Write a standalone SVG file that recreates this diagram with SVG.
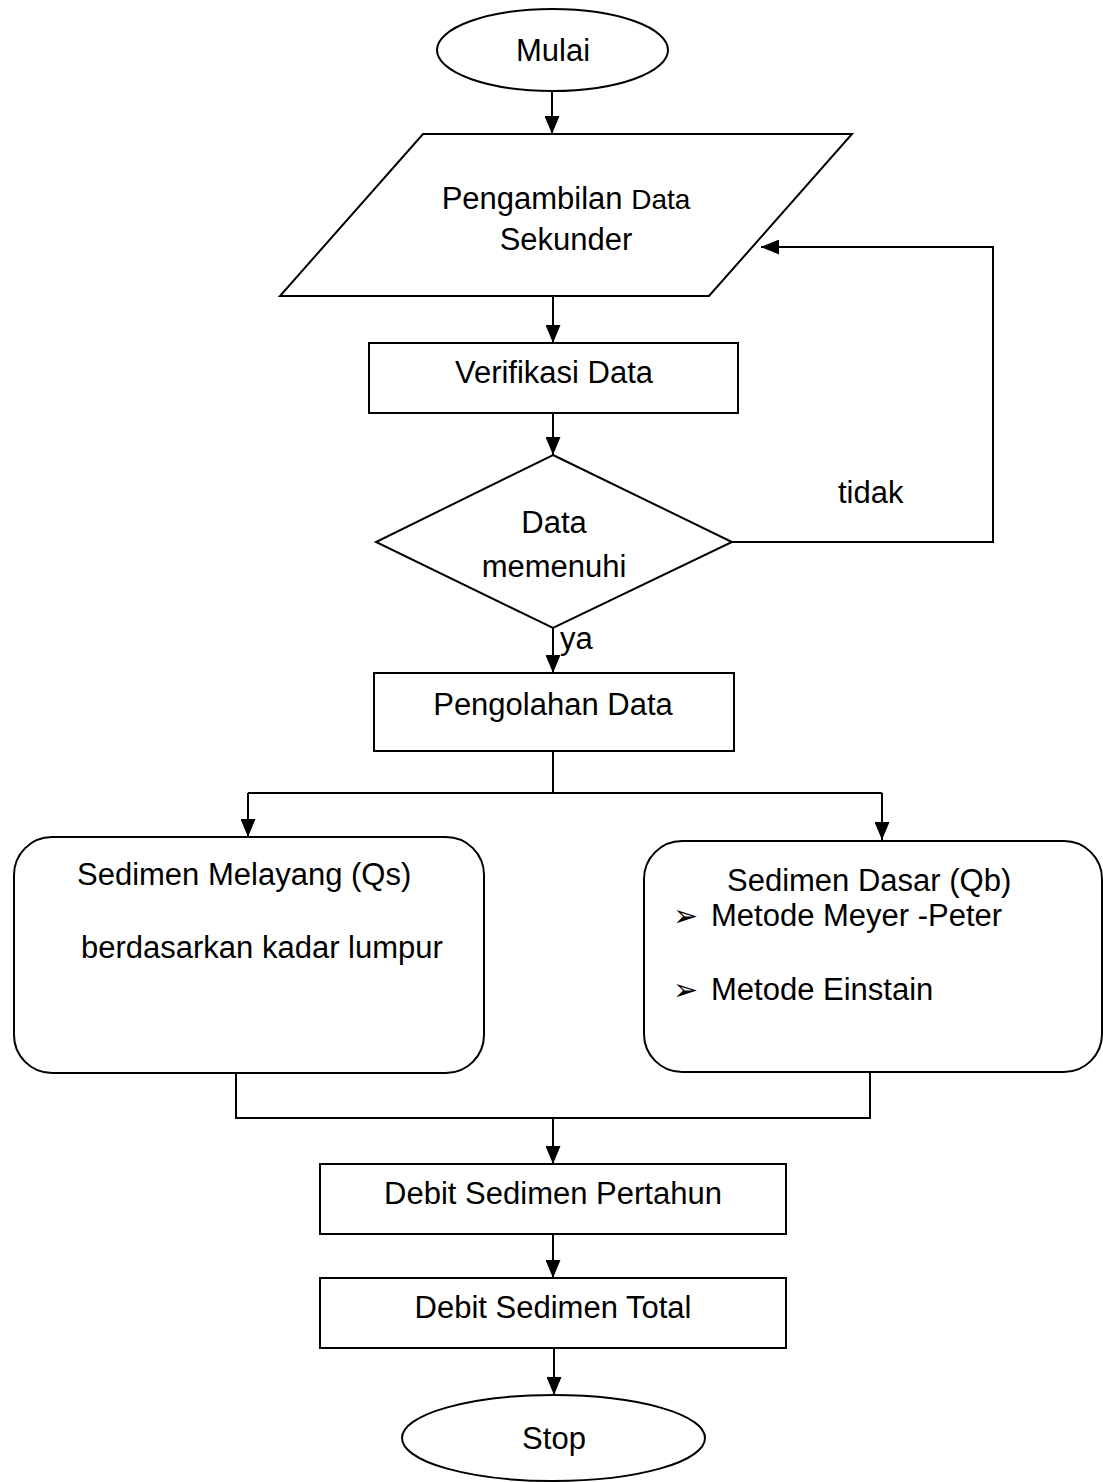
<svg xmlns="http://www.w3.org/2000/svg" width="1103" height="1482" viewBox="0 0 1103 1482">
  <style>
    .shape { fill: #ffffff; stroke: #000000; stroke-width: 2; }
    .edge { fill: none; stroke: #000000; stroke-width: 2; }
    .label { font-family: "Liberation Sans", Arial, sans-serif; font-size: 31px; fill: #000000; }
    .mid { text-anchor: middle; }
    .bullet { font-family: "DejaVu Sans", sans-serif; font-size: 30px; fill: #000000; }
  </style>
  <defs>
    <marker id="arrow" viewBox="0 0 18 15" refX="18" refY="7.5" markerWidth="18" markerHeight="15" markerUnits="userSpaceOnUse" orient="auto">
      <path d="M0,0 L18,7.5 L0,15 z" fill="#000000"/>
    </marker>
  </defs>
  <rect width="1103" height="1482" fill="#ffffff"/>

  <!-- connectors -->
  <g id="connectors">
    <line class="edge" x1="552" y1="91" x2="552" y2="134" marker-end="url(#arrow)"/>
    <line class="edge" x1="553" y1="296" x2="553" y2="343" marker-end="url(#arrow)"/>
    <line class="edge" x1="553" y1="413" x2="553" y2="455" marker-end="url(#arrow)"/>
    <line class="edge" x1="553" y1="628" x2="553" y2="673" marker-end="url(#arrow)"/>
    <polyline class="edge" points="732,542 993,542 993,247 761,247" marker-end="url(#arrow)"/>
    <polyline class="edge" points="553,751 553,793"/>
    <polyline class="edge" points="248,793 882,793"/>
    <line class="edge" x1="248" y1="793" x2="248" y2="837" marker-end="url(#arrow)"/>
    <line class="edge" x1="882" y1="793" x2="882" y2="840" marker-end="url(#arrow)"/>
    <polyline class="edge" points="236,1073 236,1118 870,1118 870,1072"/>
    <line class="edge" x1="553" y1="1118" x2="553" y2="1164" marker-end="url(#arrow)"/>
    <line class="edge" x1="553" y1="1234" x2="553" y2="1278" marker-end="url(#arrow)"/>
    <line class="edge" x1="554" y1="1348" x2="554" y2="1395" marker-end="url(#arrow)"/>
    <text class="label" x="560" y="649">ya</text>
    <text class="label" x="838" y="503">tidak</text>
  </g>

  <g id="mulai">
    <ellipse class="shape" cx="552.5" cy="50" rx="115.5" ry="41"/>
    <text class="label mid" x="553" y="61">Mulai</text>
  </g>

  <g id="pengambilan-data">
    <polygon class="shape" points="423,134 852,134 709,296 280,296"/>
    <text class="label mid" x="566" y="209">Pengambilan <tspan font-size="28">Data</tspan></text>
    <text class="label mid" x="566" y="250">Sekunder</text>
  </g>

  <g id="verifikasi-data">
    <rect class="shape" x="369" y="343" width="369" height="70"/>
    <text class="label mid" x="554" y="383">Verifikasi Data</text>
  </g>

  <g id="data-memenuhi">
    <polygon class="shape" points="553,455 732,542 553,628 376,542"/>
    <text class="label mid" x="554" y="533">Data</text>
    <text class="label mid" x="554" y="577">memenuhi</text>
  </g>

  <g id="pengolahan-data">
    <rect class="shape" x="374" y="673" width="360" height="78"/>
    <text class="label mid" x="553" y="715">Pengolahan Data</text>
  </g>

  <g id="sedimen-melayang">
    <rect class="shape" x="14" y="837" width="470" height="236" rx="38" ry="38"/>
    <text class="label" x="77" y="885">Sedimen Melayang (Qs)</text>
    <text class="label" x="81" y="958">berdasarkan kadar lumpur</text>
  </g>

  <g id="sedimen-dasar">
    <rect class="shape" x="644" y="841" width="458" height="231" rx="38" ry="38"/>
    <text class="label" x="727" y="891">Sedimen Dasar (Qb)</text>
    <text class="bullet" x="673" y="926">➢</text>
    <text class="label" x="711" y="926">Metode Meyer -Peter</text>
    <text class="bullet" x="673" y="1000">➢</text>
    <text class="label" x="711" y="1000">Metode Einstain</text>
  </g>

  <g id="debit-pertahun">
    <rect class="shape" x="320" y="1164" width="466" height="70"/>
    <text class="label mid" x="553" y="1204">Debit Sedimen Pertahun</text>
  </g>

  <g id="debit-total">
    <rect class="shape" x="320" y="1278" width="466" height="70"/>
    <text class="label mid" x="553" y="1318">Debit Sedimen Total</text>
  </g>

  <g id="stop">
    <ellipse class="shape" cx="553.5" cy="1438" rx="151.5" ry="43"/>
    <text class="label mid" x="554" y="1449">Stop</text>
  </g>
</svg>
